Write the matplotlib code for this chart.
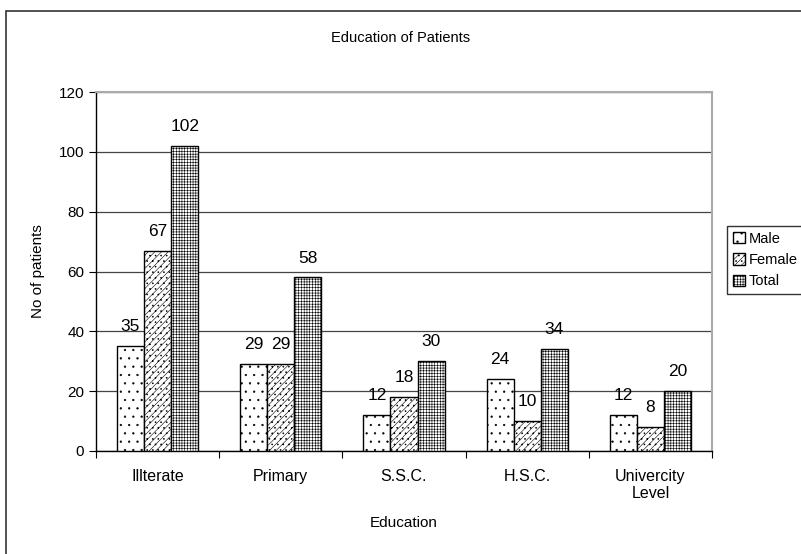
import matplotlib
matplotlib.use("Agg")
import matplotlib.pyplot as plt
import numpy as np
from matplotlib.patches import Rectangle

categories = ["Illterate", "Primary", "S.S.C.", "H.S.C.", "Univercity\nLevel"]
male = [35, 29, 12, 24, 12]
female = [67, 29, 18, 10, 8]
total = [102, 58, 30, 34, 20]

plt.rcParams['font.family'] = ['Liberation Sans', 'DejaVu Sans']
plt.rcParams['hatch.linewidth'] = 0.4
plt.rcParams['hatch.color'] = '#444444'

fig = plt.figure(figsize=(8.01, 5.54), dpi=100)
ax = fig.add_axes([96/801, 1-451/554, (712-96)/801, (451-92)/554])

x = np.arange(len(categories))
w = 0.22
series = [("Male", male, '..', -w), ("Female", female, '/////...', 0), ("Total", total, '++++++', w)]
for name, vals, hatch, off in series:
    bars = ax.bar(x + off, vals, w, color='white', edgecolor='black', hatch=hatch,
                  linewidth=1.0, label=name, zorder=3)
    for b, v in zip(bars, vals):
        ax.text(b.get_x() + b.get_width()/2, v + 4, str(v), ha='center', va='bottom',
                fontsize=12.5, zorder=4)

ax.set_xlim(-0.5, 4.5)
ax.set_ylim(0, 120)
ax.set_yticks(range(0, 121, 20))
ax.yaxis.grid(True, color='#444444', linewidth=0.9, zorder=0)
ax.set_xticks(np.arange(-0.5, 5, 1))
ax.set_xticklabels([])
ax.set_xticks(x, minor=True)
ax.set_xticklabels(categories, minor=True, fontsize=11.5)
ax.tick_params(axis='x', which='minor', length=0, pad=13)
ax.tick_params(axis='x', which='major', length=5, direction='out')
ax.tick_params(axis='y', length=5, direction='out', labelsize=11)
for s in ['top', 'right']:
    ax.spines[s].set_color('#aaaaaa')
    ax.spines[s].set_linewidth(1.5)
for s in ['left', 'bottom']:
    ax.spines[s].set_color('black')
    ax.spines[s].set_linewidth(1.0)

fig.text(0.5, 1-38/554, "Education of Patients", ha='center', va='center', fontsize=10.5)
fig.text(404/801, 1-523/554, "Education", ha='center', va='center', fontsize=11)
fig.text(38/801, 1-271/554, "No of patients", rotation=90, ha='center', va='center', fontsize=11)

leg = fig.legend(loc='upper left', bbox_to_anchor=(727/801, 1-226/554), fontsize=10.5,
                 frameon=True, fancybox=False, edgecolor='black', handlelength=0.8,
                 handleheight=0.8, handletextpad=0.3, borderpad=0.4, labelspacing=0.5,
                 borderaxespad=0)
leg.get_frame().set_linewidth(1.0)

fig.patches.append(Rectangle((6/801, -0.1), 1.2, 0.1 + 1-11/554, transform=fig.transFigure,
                             fill=False, edgecolor='#333333', linewidth=1.2))

fig.savefig("out.png", dpi=100)
